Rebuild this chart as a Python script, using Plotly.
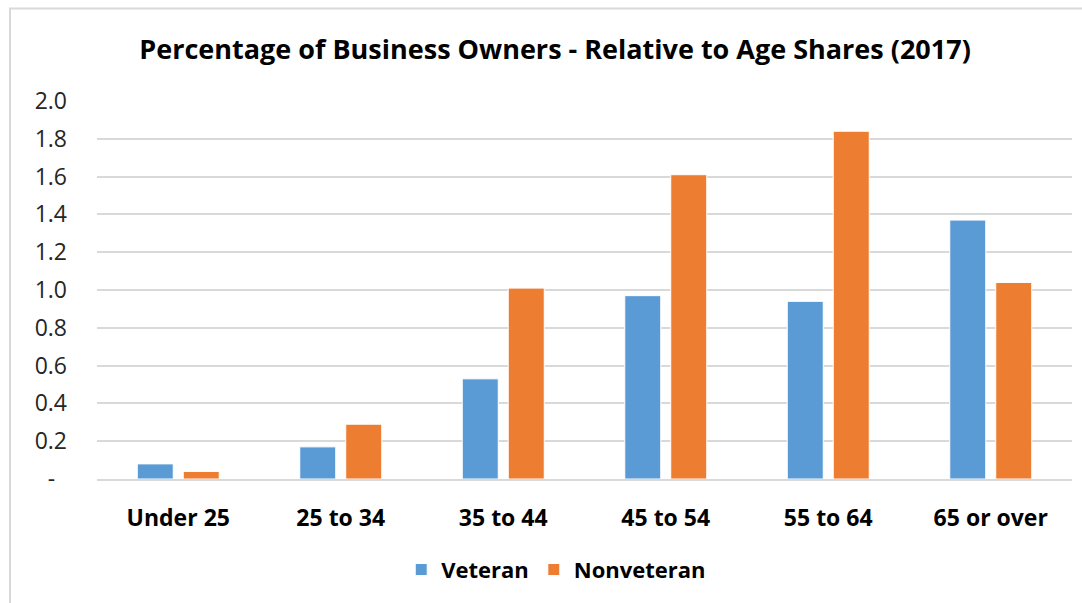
import plotly.graph_objects as go

# Age groups and business-owner ratios relative to age shares (2017)
age_groups = ["Under 25", "25 to 34", "35 to 44", "45 to 54", "55 to 64", "65 or over"]
veteran = [0.08, 0.17, 0.53, 0.97, 0.94, 1.37]
nonveteran = [0.04, 0.29, 1.01, 1.61, 1.84, 1.04]

# Accounting-style axis labels: zero shown as a dash padded from the right
y_tickvals = [0, 0.2, 0.4, 0.6, 0.8, 1.0, 1.2, 1.4, 1.6, 1.8, 2.0]
y_ticktext = ["-\u00a0\u00a0", "0.2", "0.4", "0.6", "0.8", "1.0", "1.2", "1.4", "1.6", "1.8", "2.0"]

FONT = "Open Sans"
BLUE = "#5b9bd5"
ORANGE = "#ed7d31"

fig = go.Figure()
fig.add_trace(go.Bar(
    x=age_groups, y=veteran, name="Veteran",
    marker=dict(color=BLUE, line=dict(color="white", width=1)),
))
fig.add_trace(go.Bar(
    x=age_groups, y=nonveteran, name="Nonveteran",
    marker=dict(color=ORANGE, line=dict(color="white", width=1)),
))

fig.update_layout(
    width=1082, height=603,
    margin=dict(l=97, r=10, t=101, b=124),
    paper_bgcolor="white", plot_bgcolor="white",
    barmode="group", bargap=0.434, bargroupgap=0.217,
    title=dict(
        text="<b>Percentage of Business Owners - Relative to Age Shares (2017)</b>",
        x=0.513, xref="container", xanchor="center",
        y=1 - 50 / 603, yref="container", yanchor="middle",
        font=dict(family=FONT, size=27, color="#000000"),
    ),
    xaxis=dict(
        showgrid=False, showline=True, linecolor="#d9d9d9", linewidth=2,
        ticks="", ticklabelstandoff=17,
        tickfont=dict(family=FONT, size=23, color="#000000", weight="bold"),
    ),
    yaxis=dict(
        range=[0, 2.0], tickvals=y_tickvals, ticktext=y_ticktext,
        showgrid=True, gridcolor="#d9d9d9", gridwidth=2,
        zeroline=False, showline=False, ticks="", ticklabelstandoff=29,
        tickfont=dict(family=FONT, size=23, color="#262626"),
    ),
    legend=dict(
        orientation="h", x=0.471, xanchor="center", y=-0.24, yanchor="middle",
        font=dict(family=FONT, size=22, color="#000000", weight="bold"),
        itemwidth=30, tracegroupgap=0,
    ),
    showlegend=True,
    shapes=[dict(
        type="rect", xref="paper", yref="paper",
        x0=(10 - 97) / 975, x1=1.05, y0=-0.4, y1=1 + (100.7 - 8) / 378.6,
        line=dict(color="#d9d9d9", width=2), fillcolor="rgba(0,0,0,0)", layer="below",
    )],
)

fig.write_html("out.html")
